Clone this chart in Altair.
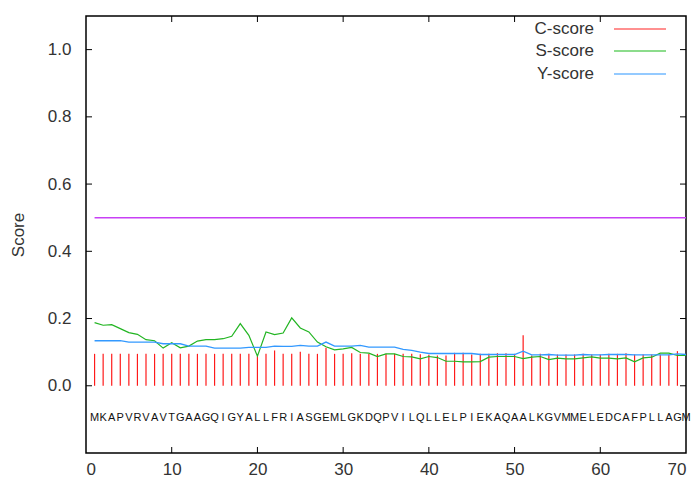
import altair as alt
import pandas as pd

sequence = "MKAPVRVAVTGAAGQIGYALLFRIASGEMLGKDQPVILQLLELPIEKAQAALKGVMMELEDCAFPLLAGM"

c_score = [0.095, 0.095, 0.095, 0.095, 0.095, 0.095, 0.095, 0.095, 0.095, 0.095,
           0.095, 0.095, 0.095, 0.095, 0.095, 0.095, 0.095, 0.095, 0.095, 0.088,
           0.095, 0.105, 0.095, 0.095, 0.101, 0.095, 0.095, 0.113, 0.095, 0.095,
           0.097, 0.095, 0.095, 0.095, 0.095, 0.095, 0.095, 0.095, 0.094, 0.092,
           0.090, 0.090, 0.098, 0.098, 0.093, 0.095, 0.095, 0.097, 0.097, 0.095,
           0.150, 0.090, 0.095, 0.095, 0.093, 0.093, 0.093, 0.095, 0.093, 0.093,
           0.095, 0.095, 0.097, 0.093, 0.093, 0.093, 0.093, 0.093, 0.103]

s_score = [0.188, 0.180, 0.182, 0.170, 0.158, 0.153, 0.137, 0.134, 0.112, 0.128,
           0.113, 0.118, 0.133, 0.137, 0.137, 0.140, 0.147, 0.185, 0.150, 0.088,
           0.160, 0.152, 0.157, 0.202, 0.172, 0.160, 0.130, 0.116, 0.107, 0.110,
           0.114, 0.099, 0.097, 0.087, 0.095, 0.095, 0.087, 0.086, 0.080, 0.087,
           0.084, 0.073, 0.073, 0.071, 0.071, 0.072, 0.085, 0.087, 0.087, 0.087,
           0.081, 0.085, 0.087, 0.078, 0.082, 0.080, 0.080, 0.083, 0.086, 0.082,
           0.082, 0.080, 0.083, 0.071, 0.083, 0.085, 0.097, 0.097, 0.090, 0.090]

y_score = [0.134, 0.134, 0.134, 0.134, 0.130, 0.130, 0.130, 0.130, 0.125, 0.125,
           0.125, 0.118, 0.118, 0.118, 0.112, 0.112, 0.112, 0.112, 0.114, 0.114,
           0.114, 0.118, 0.117, 0.117, 0.120, 0.118, 0.118, 0.130, 0.118, 0.118,
           0.118, 0.120, 0.115, 0.115, 0.115, 0.115, 0.108, 0.105, 0.100, 0.096,
           0.096, 0.096, 0.096, 0.096, 0.096, 0.093, 0.093, 0.093, 0.093, 0.093,
           0.103, 0.092, 0.092, 0.093, 0.091, 0.091, 0.091, 0.093, 0.092, 0.092,
           0.093, 0.093, 0.093, 0.092, 0.092, 0.092, 0.092, 0.092, 0.095, 0.093]

threshold = 0.5
letter_y = -0.095
x_ticks = [0, 10, 20, 30, 40, 50, 60, 70]
y_ticks = [0.0, 0.2, 0.4, 0.6, 0.8, 1.0]
legend_labels = ["C-score", "S-score", "Y-score"]
legend_colors = ["#ff6b6b", "#66d066", "#70b8ff"]

W, H = 600, 437
FONT = "Liberation Sans"

c_df = pd.DataFrame({"pos": range(1, len(c_score) + 1), "v": c_score})
s_df = pd.DataFrame({"pos": range(1, len(s_score) + 1), "v": s_score})
y_df = pd.DataFrame({"pos": range(1, len(y_score) + 1), "v": y_score})
seq_df = pd.DataFrame({"pos": range(1, len(sequence) + 1), "aa": list(sequence), "v": letter_y})
yt_df = pd.DataFrame({"v": y_ticks})
xt_df = pd.DataFrame({"pos": x_ticks[1:-1]})
thr_df = pd.DataFrame({"pos": [1], "pos2": [len(sequence)], "v": [threshold]})

xscale = alt.Scale(domain=[0, 70], nice=False, zero=False)
yscale = alt.Scale(domain=[-0.2, 1.1], nice=False, zero=False)

xaxis = alt.Axis(values=x_ticks, ticks=False, domain=False, grid=False, labelFontSize=17,
                 labelFont=FONT, labelColor="#333", labelPadding=8, title=None, format="d")
yaxis = alt.Axis(values=y_ticks, ticks=False, domain=False, grid=False, labelFontSize=17,
                 labelFont=FONT, labelColor="#333", labelPadding=15, format=".1f",
                 title="Score", titleFont=FONT, titleFontSize=17, titleFontWeight="normal",
                 titleColor="#333", titlePadding=20)


def X(field="pos"):
    return alt.X(f"{field}:Q", scale=xscale, axis=xaxis)


def Y(field="v"):
    return alt.Y(f"{field}:Q", scale=yscale, axis=yaxis)


bars = alt.Chart(c_df).mark_rule(color="#ff1a1a", strokeWidth=1.2).encode(
    x=X(), y=Y(), y2=alt.datum(0),
)

s_line = alt.Chart(s_df).mark_line(color="#22b522", strokeWidth=1.2).encode(x=X(), y=Y())
y_line = alt.Chart(y_df).mark_line(color="#3399ff", strokeWidth=1.3).encode(x=X(), y=Y())

thr = alt.Chart(thr_df).mark_rule(color="#c840f5", strokeWidth=1.5).encode(
    x=X(), x2="pos2:Q", y=Y()
)

letters = alt.Chart(seq_df).mark_text(font=FONT, fontSize=11, color="#111").encode(
    x=X(), y=Y(), text="aa:N"
)

yt_left = alt.Chart(yt_df).mark_rule(color="black").encode(y=Y(), x=alt.value(0), x2=alt.value(6))
yt_right = alt.Chart(yt_df).mark_rule(color="black").encode(y=Y(), x=alt.value(W - 6), x2=alt.value(W))
xt_bottom = alt.Chart(xt_df).mark_rule(color="black").encode(x=X(), y=alt.value(H - 6), y2=alt.value(H))
xt_top = alt.Chart(xt_df).mark_rule(color="black").encode(x=X(), y=alt.value(0), y2=alt.value(6))

legend_layers = []
row_y = [13, 35, 58]
for label, color, ry in zip(legend_labels, legend_colors, row_y):
    ldf = pd.DataFrame({"label": [label]})
    legend_layers.append(
        alt.Chart(ldf).mark_text(font=FONT, fontSize=17, color="#333", align="right",
                                 baseline="middle").encode(
            x=alt.value(508), y=alt.value(ry), text="label:N")
    )
    legend_layers.append(
        alt.Chart(ldf).mark_rule(strokeWidth=1.5, color=color).encode(
            x=alt.value(528), x2=alt.value(580), y=alt.value(ry))
    )

chart = alt.layer(
    thr, bars, s_line, y_line, letters, yt_left, yt_right, xt_bottom, xt_top, *legend_layers
).properties(
    width=W, height=H,
    autosize=alt.AutoSizeParams(type="none"),
    padding={"left": 78, "top": 8, "right": 5, "bottom": 28},
).configure_view(stroke="black", strokeWidth=1.5)

chart.save("out.html", embed_options={"renderer": "svg", "actions": False})
